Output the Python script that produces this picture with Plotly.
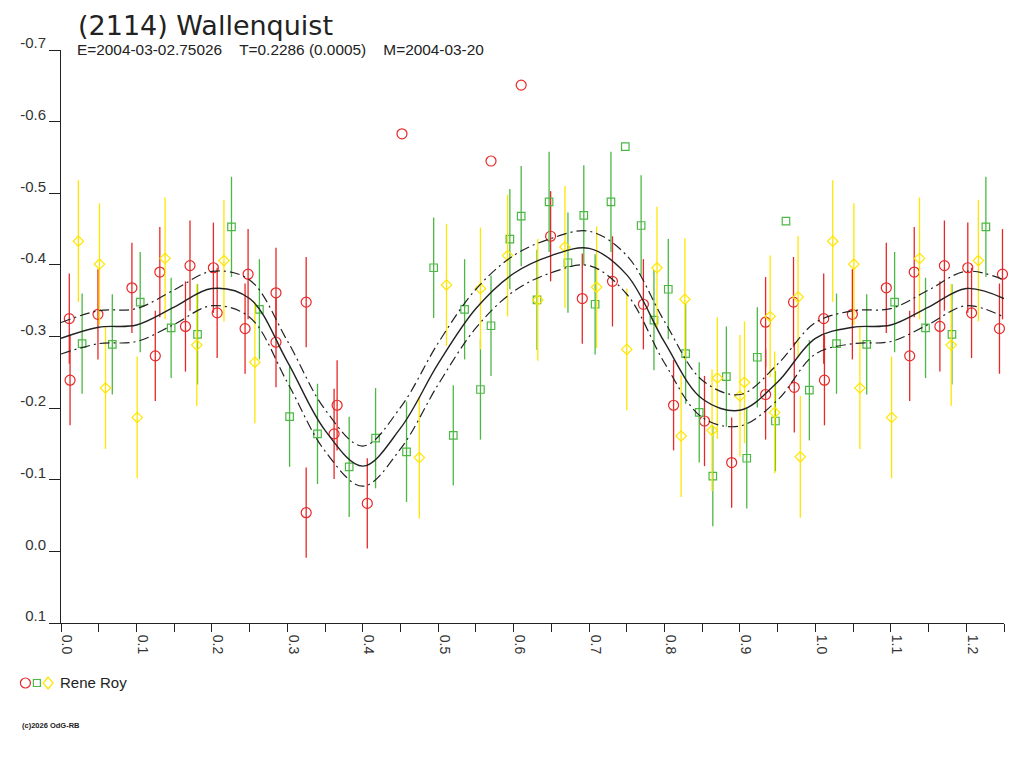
import plotly.graph_objects as go

# ---------------- data ----------------
red_phase = [0.011, 0.012, 0.049, 0.094, 0.125, 0.131, 0.165, 0.171, 0.202, 0.207,
             0.244, 0.248, 0.285, 0.285, 0.325, 0.325, 0.362, 0.366, 0.406, 0.452,
             0.570, 0.610, 0.649, 0.691, 0.731, 0.772, 0.812, 0.853, 0.889, 0.934,
             0.934, 0.971, 0.972]
red_mag = [-0.325, -0.239, -0.331, -0.368, -0.273, -0.390, -0.314, -0.399, -0.396, -0.333,
           -0.311, -0.387, -0.361, -0.292, -0.348, -0.054, -0.164, -0.204, -0.067, -0.583,
           -0.545, -0.651, -0.440, -0.353, -0.377, -0.345, -0.204, -0.182, -0.124, -0.320,
           -0.219, -0.348, -0.229]
red_err = [0.063] * 19 + [0.0, 0.0, 0.0] + [0.063] * 11

green_phase = [0.028, 0.068, 0.105, 0.146, 0.181, 0.226, 0.263, 0.303, 0.340, 0.382,
               0.417, 0.458, 0.494, 0.520, 0.535, 0.556, 0.570, 0.595, 0.610, 0.631,
               0.647, 0.672, 0.693, 0.708, 0.729, 0.748, 0.769, 0.786, 0.805, 0.828,
               0.846, 0.864, 0.882, 0.909, 0.923, 0.947, 0.961, 0.992]
green_mag = [-0.290, -0.289, -0.348, -0.312, -0.303, -0.453, -0.338, -0.188, -0.164, -0.118,
             -0.158, -0.139, -0.396, -0.162, -0.338, -0.226, -0.315, -0.436, -0.468, -0.351,
             -0.488, -0.403, -0.469, -0.345, -0.488, -0.565, -0.455, -0.323, -0.366, -0.276,
             -0.194, -0.105, -0.244, -0.130, -0.271, -0.182, -0.461, -0.225]
green_err = [0.07] * 25 + [0.0] + [0.07] * 10 + [0.0] + [0.07]

yellow_phase = [0.023, 0.051, 0.059, 0.101, 0.138, 0.180, 0.216, 0.257, 0.475, 0.511,
                0.556, 0.592, 0.632, 0.668, 0.710, 0.750, 0.790, 0.822, 0.827, 0.863,
                0.870, 0.900, 0.906, 0.940, 0.946, 0.977, 0.980]
yellow_mag = [-0.433, -0.401, -0.228, -0.187, -0.409, -0.288, -0.406, -0.264, -0.131, -0.372,
              -0.367, -0.413, -0.351, -0.425, -0.369, -0.282, -0.396, -0.161, -0.352, -0.169,
              -0.242, -0.217, -0.236, -0.328, -0.194, -0.355, -0.132]
yellow_err = [0.085] * 27

# fitted lightcurve (phase, mag, envelope half-width)
curve_phase = [0.00, 0.05, 0.10, 0.15, 0.20, 0.25, 0.30, 0.35, 0.40, 0.45,
               0.50, 0.55, 0.60, 0.65, 0.70, 0.75, 0.80, 0.85, 0.90, 0.95]
curve_mag = [-0.2975, -0.313, -0.316, -0.341, -0.367, -0.353, -0.265, -0.169, -0.119, -0.172,
             -0.262, -0.339, -0.388, -0.413, -0.423, -0.386, -0.292, -0.213, -0.197, -0.2365]
curve_hw = [0.022, 0.023, 0.023, 0.024, 0.024, 0.026, 0.029, 0.029, 0.028, 0.029,
            0.029, 0.027, 0.025, 0.024, 0.024, 0.027, 0.029, 0.026, 0.022, 0.025]

x_ticks = [0.0, 0.1, 0.2, 0.3, 0.4, 0.5, 0.6, 0.7, 0.8, 0.9, 1.0, 1.1, 1.2]
x_ticktext = ["0.0", "0.1", "0.2", "0.3", "0.4", "0.5", "0.6", "0.7", "0.8", "0.9", "1.0", "1.1", "1.2"]
y_ticks = [-0.7, -0.6, -0.5, -0.4, -0.3, -0.2, -0.1, 0.0, 0.1]
y_ticktext = ["-0.7", "-0.6", "-0.5", "-0.4", "-0.3", "-0.2", "-0.1", "0.0", "0.1"]

title_text = "(2114) Wallenquist"
sub_text = "E=2004-03-02.75026\u00a0\u00a0\u00a0\u00a0T=0.2286 (0.0005)\u00a0\u00a0\u00a0\u00a0M=2004-03-20"
observer = "Rene Roy"
copyright_text = "(c)2026 OdG-RB"

RED = "#E82828"
GREEN = "#4CB844"
YELLOW = "#FFE600"
INK = "#222222"

PHASE_MAX = 1.25


def fold(ph, mg, er):
    """extend data past phase 1 by repeating the start of the cycle"""
    P, M, E = list(ph), list(mg), list(er)
    for p, m, e in zip(ph, mg, er):
        if p + 1 <= PHASE_MAX:
            P.append(p + 1)
            M.append(m)
            E.append(e)
    return P, M, E


fig = go.Figure()

for ph, mg, er, col, sym, sz in [
    (red_phase, red_mag, red_err, RED, "circle-open", 10),
    (green_phase, green_mag, green_err, GREEN, "square-open", 7.5),
    (yellow_phase, yellow_mag, yellow_err, YELLOW, "diamond-open", 8),
]:
    P, M, E = fold(ph, mg, er)
    fig.add_trace(go.Scatter(
        x=P, y=M, mode="markers",
        marker=dict(symbol=sym, size=sz, color=col, line=dict(width=1.2, color=col)),
        error_y=dict(type="data", array=E, visible=True, color=col, thickness=1.3, width=0),
        cliponaxis=False, showlegend=False, hoverinfo="skip",
    ))

# fitted curve + envelope
cp, cm, ch = list(curve_phase), list(curve_mag), list(curve_hw)
for p, m, h in zip(curve_phase, curve_mag, curve_hw):
    if p + 1 <= PHASE_MAX + 1e-9:
        cp.append(p + 1)
        cm.append(m)
        ch.append(h)
upper = [m - h for m, h in zip(cm, ch)]
lower = [m + h for m, h in zip(cm, ch)]

for yy in (upper, lower):
    fig.add_trace(go.Scatter(x=cp, y=yy, mode="lines",
                             line=dict(color=INK, width=1.2, dash="10px,4px,2px,4px", shape="spline"),
                             showlegend=False, hoverinfo="skip"))
fig.add_trace(go.Scatter(x=cp, y=cm, mode="lines", line=dict(color=INK, width=1.4, shape="spline"),
                         showlegend=False, hoverinfo="skip"))

# page is shown with an 8px body offset; layout numbers below are screen pixels
OFF = 8
W, H = 1024, 768
SL, SR, ST, SB = 58, 1004, 50, 623          # plot box in screen pixels
L, T = SL - OFF, ST - OFF
R = W - (SR - OFF)
B = H - (SB - OFF)
PW, PH = W - L - R, H - T - B


def px_x(px):
    return (px - SL) / PW


def px_y(py):
    return (SB - py) / PH


fig.update_layout(
    width=W, height=H,
    margin=dict(l=L, r=R, t=T, b=B, pad=0),
    paper_bgcolor="white", plot_bgcolor="white",
    font=dict(family="Liberation Sans, Arial, sans-serif", color="#333333"),
    xaxis=dict(range=[0, PHASE_MAX], tickvals=x_ticks, ticktext=x_ticktext, tickangle=90,
               ticks="outside", ticklen=8, tickcolor=INK, tickwidth=1,
               minor=dict(dtick=0.05, tick0=0, ticks="outside", ticklen=8, tickcolor=INK, tickwidth=1),
               showline=True, linecolor=INK, linewidth=1, showgrid=False, zeroline=False,
               tickfont=dict(size=14, color="#333333"), ticklabelshift=6),
    yaxis=dict(range=[0.1, -0.7], tickvals=y_ticks, ticktext=y_ticktext,
               ticks="outside", ticklen=11, tickcolor=INK, tickwidth=1,
               showline=True, linecolor=INK, linewidth=1, showgrid=False, zeroline=False,
               tickfont=dict(size=15, color="#333333"), ticklabelshift=7),
    showlegend=False,
)

fig.add_annotation(text=title_text, xref="paper", yref="paper", x=px_x(74), y=px_y(OFF + 1),
                   xanchor="left", yanchor="top", showarrow=False, borderpad=0,
                   font=dict(size=27, color=INK, family="DejaVu Sans, sans-serif"))
fig.add_annotation(text=sub_text, xref="paper", yref="paper", x=px_x(72), y=px_y(49),
                   xanchor="left", yanchor="middle", showarrow=False,
                   font=dict(size=15.4, color=INK))
fig.add_annotation(text=observer, xref="paper", yref="paper", x=px_x(55), y=px_y(683),
                   xanchor="left", yanchor="middle", showarrow=False,
                   font=dict(size=15, color=INK))
fig.add_annotation(text="<b>" + copyright_text + "</b>", xref="paper", yref="paper", x=px_x(17), y=px_y(725),
                   xanchor="left", yanchor="middle", showarrow=False,
                   font=dict(size=7.5, color=INK))

# legend icons
fig.add_shape(type="circle", xref="paper", yref="paper", xsizemode="pixel", ysizemode="pixel",
              xanchor=px_x(22.3), yanchor=px_y(683), x0=-5, x1=5, y0=-5, y1=5,
              line=dict(color=RED, width=1.2))
fig.add_shape(type="rect", xref="paper", yref="paper", xsizemode="pixel", ysizemode="pixel",
              xanchor=px_x(33.8), yanchor=px_y(683), x0=-3.5, x1=3.5, y0=-3.5, y1=3.5,
              line=dict(color=GREEN, width=1.2))
fig.add_shape(type="path", xref="paper", yref="paper", xsizemode="pixel", ysizemode="pixel",
              xanchor=px_x(45), yanchor=px_y(683), path="M -5 0 L 0 6 L 5 0 L 0 -6 Z",
              line=dict(color=YELLOW, width=1.2))

fig.write_html("out.html")
